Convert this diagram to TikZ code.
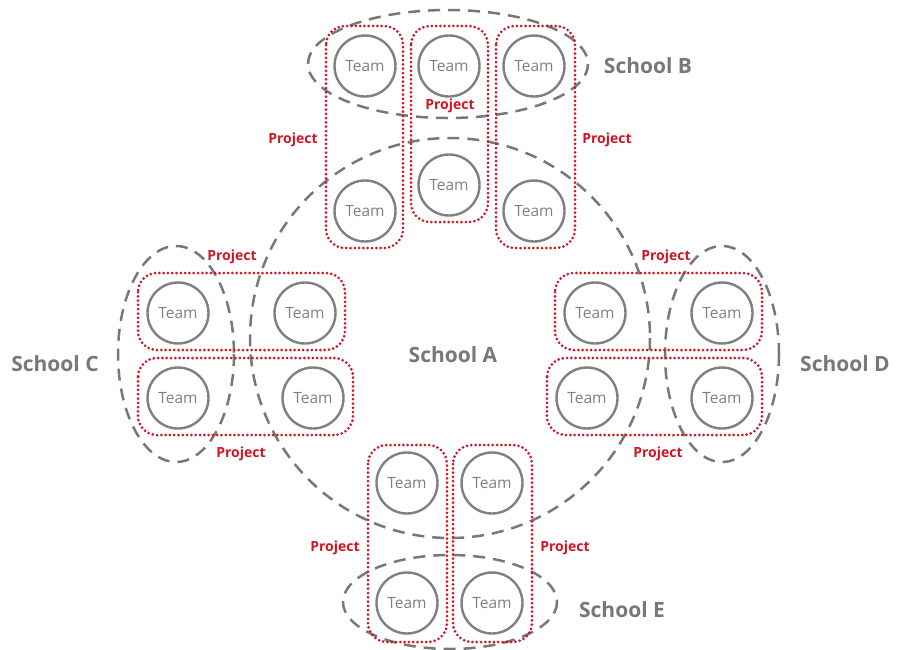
\documentclass[tikz,border=0pt]{standalone}
\usepackage{fontspec}
\setmainfont{Open Sans}
\begin{document}
\definecolor{teamgray}{RGB}{128,128,128}
\definecolor{schoolgray}{RGB}{120,120,120}
\definecolor{projred}{RGB}{206,22,36}
\begin{tikzpicture}[x=1pt,y=-1pt,
  team/.style={circle,draw=teamgray,line width=2.4pt,fill=white,minimum size=61pt,inner sep=0pt,
    text=teamgray,font=\fontsize{15.5}{15.5}\selectfont},
  school/.style={draw=schoolgray,line width=2.5pt,dash pattern=on 12pt off 8pt},
  projbox/.style={draw=projred,line width=3pt,line cap=round,dash pattern=on 0pt off 4.3pt,
    rounded corners=19pt},
  projlabel/.style={text=projred,font=\bfseries\fontsize{14}{14}\selectfont,yshift=-2pt},
  schoollabel/.style={text=schoolgray,font=\bfseries\fontsize{21}{21}\selectfont,yshift=-1pt}]
\useasboundingbox (0,0) rectangle (900,649);

% schools
\draw[school] (450,338) circle [radius=200];
\draw[school] (448,64) ellipse [x radius=140, y radius=54];
\draw[school] (176,354) ellipse [x radius=58, y radius=108];
\draw[school] (722,354) ellipse [x radius=57, y radius=108];
\draw[school] (450,602) ellipse [x radius=107, y radius=47];

% project groupings
\draw[projbox] (326,26) rectangle (403,248);
\draw[projbox] (411,26) rectangle (488,222);
\draw[projbox] (496,26) rectangle (575,248);
\draw[projbox] (138,273) rectangle (345,350);
\draw[projbox] (138,358) rectangle (353,435);
\draw[projbox] (555,273) rectangle (762,350);
\draw[projbox] (547,358) rectangle (762,435);
\draw[projbox] (368,445) rectangle (447,642);
\draw[projbox] (453,445) rectangle (532,642);

% teams
\node[team] (b1) at (365,66) {Team};
\node[team] (b2) at (449,66) {Team};
\node[team] (b3) at (534,66) {Team};
\node[team] (a1) at (365,211) {Team};
\node[team] (a2) at (449,185) {Team};
\node[team] (a3) at (534,211) {Team};
\node[team] (c1) at (178,313) {Team};
\node[team] (a4) at (305,313) {Team};
\node[team] (c2) at (178,398) {Team};
\node[team] (a5) at (313,398) {Team};
\node[team] (a6) at (595,313) {Team};
\node[team] (d1) at (722,313) {Team};
\node[team] (a7) at (587,398) {Team};
\node[team] (d2) at (722,398) {Team};
\node[team] (a8) at (407,483) {Team};
\node[team] (a9) at (492,483) {Team};
\node[team] (e1) at (407,603) {Team};
\node[team] (e2) at (492,603) {Team};

% project labels
\node[projlabel] (p1) at (293,138) {Project};
\node[projlabel] (p2) at (450,104) {Project};
\node[projlabel] (p3) at (607,138) {Project};
\node[projlabel] (p4) at (232,255) {Project};
\node[projlabel] (p5) at (241,452) {Project};
\node[projlabel] (p6) at (666,255) {Project};
\node[projlabel] (p7) at (658,452) {Project};
\node[projlabel] (p8) at (335,546) {Project};
\node[projlabel] (p9) at (565,546) {Project};

% school labels
\node[schoollabel] (sa) at (453,354) {School A};
\node[schoollabel] (sb) at (648,65) {School B};
\node[schoollabel] (sc) at (55,363) {School C};
\node[schoollabel] (sd) at (845,363) {School D};
\node[schoollabel] (se) at (622,609) {School E};
\end{tikzpicture}
\end{document}
